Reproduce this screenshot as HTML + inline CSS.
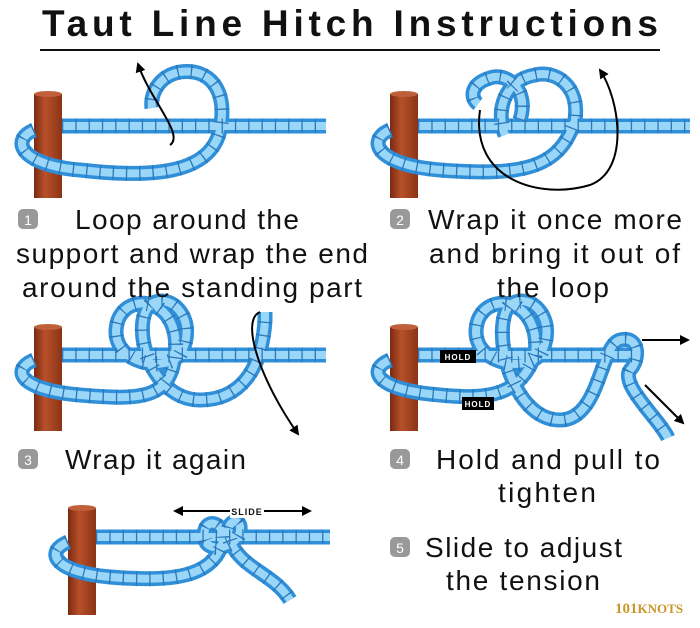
<!DOCTYPE html>
<html><head><meta charset="utf-8"><style>
html,body{margin:0;padding:0;background:#fff;width:700px;height:628px;overflow:hidden}
.t{font-family:"Liberation Sans",sans-serif;fill:#111}
.r1{fill:none;stroke:#2f8fd8;stroke-width:15;stroke-linecap:butt}
.r2{fill:none;stroke:#9ad6f7;stroke-width:8}
.r3{fill:none;stroke:#2a78bb;stroke-width:15;stroke-dasharray:1.3 12}
.ar{fill:none;stroke:#000;stroke-width:2}
</style></head><body>
<svg width="700" height="628" viewBox="0 0 700 628" xmlns="http://www.w3.org/2000/svg">
<defs>
<marker id="m" markerWidth="10" markerHeight="10" refX="8" refY="5" orient="auto" markerUnits="userSpaceOnUse"><path d="M0,0 L10,5 L0,10 Z" fill="#000"/></marker>
<linearGradient id="p" x1="0" x2="1"><stop offset="0" stop-color="#7a2a12"/><stop offset="0.4" stop-color="#b8502a"/><stop offset="1" stop-color="#8a3416"/></linearGradient>
<g id="ropes" fill="none">
<g><path d="M62,126 H326"/><path d="M34,130 C10,140 20,165 80,170 C150,178 210,175 220,130 C228,90 210,68 180,72 C158,76 150,95 152,108"/></g>
<g><path d="M418,126 H690"/><path d="M390,130 C366,140 376,165 440,170 C520,176 560,170 575,120 C580,85 555,70 535,75 C505,80 495,110 505,135 M520,120 C530,88 505,72 490,78 C470,84 470,98 478,104"/></g>
<g><path d="M62,355 H326"/><path d="M34,360 C10,370 20,390 80,395 C140,400 170,400 175,355 C182,300 130,290 118,320 C105,360 160,375 180,355 C200,320 170,290 150,305 C130,325 150,400 200,400 C240,400 262,370 265,320 L265,312"/></g>
<g><path d="M418,355 H640"/><path d="M390,360 C366,370 376,390 440,395 C490,400 520,395 535,355 C542,300 490,290 478,320 C465,360 520,375 540,355 C560,320 530,290 510,305 C490,325 510,420 560,420 C600,420 600,345 620,340 C640,335 640,360 630,370 C620,385 660,420 668,438"/></g>
<g><path d="M96,537 H330"/><path d="M68,542 C44,552 54,572 110,577 C170,582 210,578 222,545 C228,520 200,515 205,540 C210,555 240,545 240,530 C242,515 220,520 232,545 C245,570 275,575 290,600"/></g>
</g>
</defs>
<text x="350" y="36" text-anchor="middle" class="t" font-size="37" font-weight="bold" textLength="616" lengthAdjust="spacing">Taut Line Hitch Instructions</text>
<rect x="40" y="49" width="620" height="2" fill="#111"/>

<rect x="34" y="94" width="28" height="104" fill="url(#p)"/><ellipse cx="48" cy="94" rx="14" ry="3" fill="#c0603a"/>
<rect x="390" y="94" width="28" height="104" fill="url(#p)"/><ellipse cx="404" cy="94" rx="14" ry="3" fill="#c0603a"/>
<rect x="34" y="327" width="28" height="104" fill="url(#p)"/><ellipse cx="48" cy="327" rx="14" ry="3" fill="#c0603a"/>
<rect x="390" y="327" width="28" height="104" fill="url(#p)"/><ellipse cx="404" cy="327" rx="14" ry="3" fill="#c0603a"/>
<rect x="68" y="508" width="28" height="107" fill="url(#p)"/><ellipse cx="82" cy="508" rx="14" ry="3" fill="#c0603a"/>

<use href="#ropes" class="r1"/>
<use href="#ropes" class="r2"/>
<use href="#ropes" class="r3"/>

<path class="ar" d="M170,145 C185,135 150,100 138,64" marker-end="url(#m)"/>
<path class="ar" d="M480,110 C470,180 540,200 590,185 C630,170 620,100 600,70" marker-end="url(#m)"/>
<path class="ar" d="M260,312 C240,320 260,380 298,434" marker-end="url(#m)"/>
<line class="ar" x1="642" y1="340" x2="688" y2="340" marker-end="url(#m)"/>
<line class="ar" x1="645" y1="385" x2="683" y2="423" marker-end="url(#m)"/>
<line class="ar" x1="175" y1="511" x2="310" y2="511" marker-end="url(#m)"/>
<line class="ar" x1="310" y1="511" x2="175" y2="511" marker-end="url(#m)"/>
<rect x="230" y="504" width="34" height="14" fill="#fff"/>
<text x="247" y="515" text-anchor="middle" class="t" font-size="9" font-weight="bold" letter-spacing="1">SLIDE</text>
<rect x="440" y="350" width="36" height="13" fill="#000"/><text x="458" y="360" text-anchor="middle" font-family="Liberation Sans" font-size="8" font-weight="bold" fill="#fff" letter-spacing="1">HOLD</text>
<rect x="462" y="397" width="32" height="13" fill="#000"/><text x="478" y="407" text-anchor="middle" font-family="Liberation Sans" font-size="8" font-weight="bold" fill="#fff" letter-spacing="1">HOLD</text>

<g class="t" font-size="28">
<rect x="18" y="209" width="20" height="20" rx="5" fill="#999"/><text x="28" y="225" text-anchor="middle" font-size="14" style="fill:#fff">1</text>
<text x="75" y="229" textLength="224" lengthAdjust="spacing">Loop around the</text>
<text x="16" y="263" textLength="352" lengthAdjust="spacing">support and wrap the end</text>
<text x="22" y="297" textLength="340" lengthAdjust="spacing">around the standing part</text>
<rect x="390" y="209" width="20" height="20" rx="5" fill="#999"/><text x="400" y="225" text-anchor="middle" font-size="14" style="fill:#fff">2</text>
<text x="428" y="229" textLength="254" lengthAdjust="spacing">Wrap it once more</text>
<text x="429" y="263" textLength="251" lengthAdjust="spacing">and bring it out of</text>
<text x="497" y="297" textLength="112" lengthAdjust="spacing">the loop</text>
<rect x="18" y="449" width="20" height="20" rx="5" fill="#999"/><text x="28" y="465" text-anchor="middle" font-size="14" style="fill:#fff">3</text>
<text x="65" y="469" textLength="181" lengthAdjust="spacing">Wrap it again</text>
<rect x="390" y="449" width="20" height="20" rx="5" fill="#999"/><text x="400" y="465" text-anchor="middle" font-size="14" style="fill:#fff">4</text>
<text x="436" y="469" textLength="224" lengthAdjust="spacing">Hold and pull to</text>
<text x="498" y="502" textLength="98" lengthAdjust="spacing">tighten</text>
<rect x="390" y="537" width="20" height="20" rx="5" fill="#999"/><text x="400" y="553" text-anchor="middle" font-size="14" style="fill:#fff">5</text>
<text x="425" y="557" textLength="197" lengthAdjust="spacing">Slide to adjust</text>
<text x="446" y="590" textLength="154" lengthAdjust="spacing">the tension</text>
</g>
<text x="615" y="613" font-family="Liberation Serif" font-size="15" font-weight="bold" fill="#c8962a">101<tspan font-size="13">KNOTS</tspan></text>
</svg>
</body></html>
